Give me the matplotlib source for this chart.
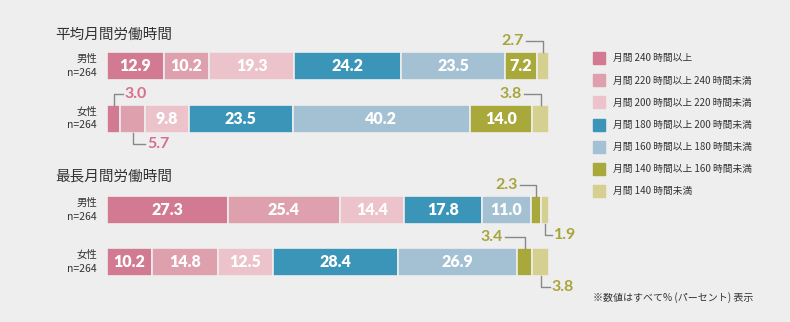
import matplotlib.pyplot as plt
import numpy as np

plt.rcParams['font.family'] = ['Noto Sans CJK JP', 'DejaVu Sans']

# data
sections = ['平均月間労働時間', '最長月間労働時間']
groups = ['男性', '女性']
sample = 'n=264'
legend_labels = [
    '月間 240 時間以上',
    '月間 220 時間以上 240 時間未満',
    '月間 200 時間以上 220 時間未満',
    '月間 180 時間以上 200 時間未満',
    '月間 160 時間以上 180 時間未満',
    '月間 140 時間以上 160 時間未満',
    '月間 140 時間未満',
]
avg_male = [12.9, 10.2, 19.3, 24.2, 23.5, 7.2, 2.7]
avg_female = [3.0, 5.7, 9.8, 23.5, 40.2, 14.0, 3.8]
max_male = [27.3, 25.4, 14.4, 17.8, 11.0, 2.3, 1.9]
max_female = [10.2, 14.8, 12.5, 28.4, 26.9, 3.4, 3.8]
rows = [avg_male, avg_female, max_male, max_female]
note = '※数値はすべて% (パーセント) 表示'

colors = ['#d27a92', '#dfa0ae', '#ecc3cb', '#3b95b8', '#a3c1d3', '#a9a83b', '#d5cf90']
text_colors = ['#d66f8b', '#d66f8b', '#d66f8b', '#3b95b8', '#a3c1d3', '#a9a43a', '#a9a43a']
bg = '#eeeeee'
num_font = ['Lato', 'DejaVu Sans']

# layout (pixels, figure is 790x322)
W, H = 790, 322
bar_left, bar_right = 107, 549
row_y = [66, 118.5, 209.5, 262]
bar_h = 28
title_y = [35, 177]
# callouts for small segments: (row, segment, up/down, left/right, length px)
callouts = [(0, 6, 'up', 'left', 17), (1, 0, 'up', 'right', 9), (1, 1, 'down', 'right', 12),
            (1, 6, 'up', 'left', 17), (2, 5, 'up', 'left', 16), (2, 6, 'down', 'right', 7),
            (3, 5, 'up', 'left', 20), (3, 6, 'down', 'right', 9)]

fig = plt.figure(figsize=(W / 100, H / 100), dpi=100, facecolor=bg)
ax = fig.add_axes([bar_left / W, 0, (bar_right - bar_left) / W, 1])
ax.set_xlim(0, 100)
ax.set_ylim(H, 0)
ax.axis('off')
px = 100 / (bar_right - bar_left)  # percent per pixel

for r, vals in enumerate(rows):
    left = np.concatenate([[0], np.cumsum(vals)[:-1]])
    ax.barh(row_y[r], vals, left=left, height=bar_h, color=colors,
            edgecolor=bg, linewidth=1.2)
    for v, l in zip(vals, left):
        if v >= 7:
            ax.text(l + v / 2, row_y[r], f'{v:.1f}', color='white', fontsize=11.5,
                    family=num_font, fontweight='heavy', ha='center', va='center')
    # group labels
    fig.text(97 / W, 1 - (row_y[r] - 7) / H, groups[r % 2], fontsize=7.5,
             color='#333333', ha='right', va='center')
    fig.text(97 / W, 1 - (row_y[r] + 7) / H, sample, fontsize=7.5,
             color='#333333', ha='right', va='center')

for r, s, vdir, hdir, length in callouts:
    vals = rows[r]
    xc = sum(vals[:s]) + vals[s] / 2
    if vdir == 'up':
        y0 = row_y[r] - bar_h / 2
        y1 = y0 - 11
    else:
        y0 = row_y[r] + bar_h / 2
        y1 = y0 + 11
    x1 = xc - length * px if hdir == 'left' else xc + length * px
    ax.plot([xc, xc, x1], [y0, y1, y1], color='#888888', lw=1, clip_on=False)
    tx = x1 - 2 * px if hdir == 'left' else x1 + 2 * px
    ax.text(tx, y1, f'{vals[s]:.1f}', color=text_colors[s], fontsize=11.5,
            family=num_font, fontweight='bold', ha='right' if hdir == 'left' else 'left',
            va='center', clip_on=False)

for t, y in zip(sections, title_y):
    fig.text(55 / W, 1 - y / H, t, fontsize=10.5, color='#333333', ha='left', va='center')

# legend
leg_y = [58, 80.5, 102.5, 125, 147, 169, 191]
for lab, c, y in zip(legend_labels, colors, leg_y):
    fig.patches.append(plt.Rectangle((593 / W, 1 - (y + 6) / H), 12 / W, 12 / H,
                                     transform=fig.transFigure, color=c))
    fig.text(613 / W, 1 - y / H, lab, fontsize=7, color='#333333', ha='left', va='center')

fig.text(593 / W, 1 - 298 / H, note, fontsize=7.2, color='#333333', ha='left', va='center')

fig.savefig('out.png', dpi=100, facecolor=bg)
